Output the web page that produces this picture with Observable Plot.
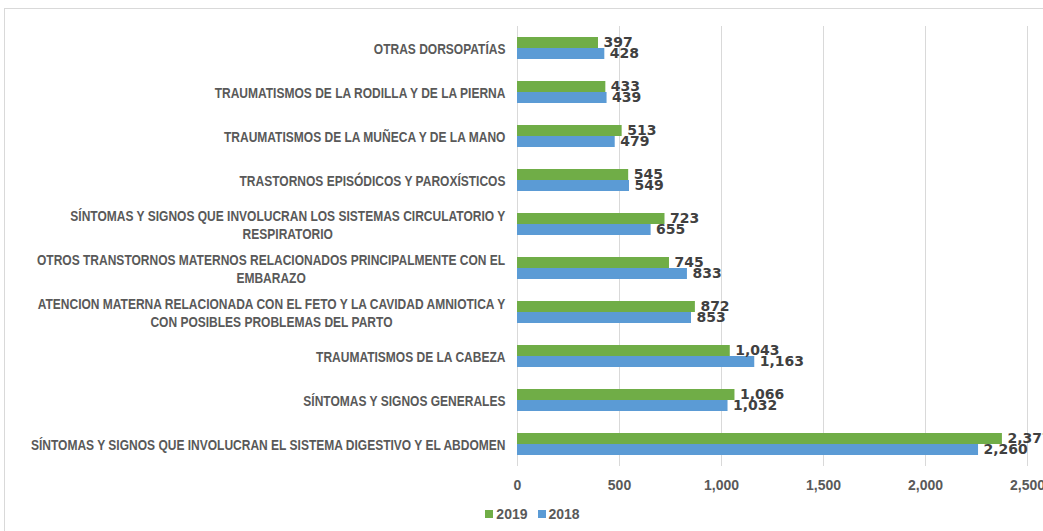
<!DOCTYPE html>
<html><head><meta charset="utf-8">
<script src="https://cdn.jsdelivr.net/npm/d3@7"></script>
<script src="https://cdn.jsdelivr.net/npm/@observablehq/plot@0.6"></script>
<style>
body{margin:0;background:#fff;overflow:hidden;width:1043px;height:531px;position:relative;font-family:"Liberation Sans",Arial,sans-serif;}
#frame{position:absolute;left:4px;top:8px;width:1100px;height:600px;border:1px solid #d9d9d9;box-sizing:border-box;}
#chart{position:absolute;left:0;top:0;}
#legend{position:absolute;top:506px;left:0;width:1043px;display:flex;justify-content:center;gap:10px;font:bold 14px "Liberation Sans",Arial,sans-serif;color:#595959;padding-left:22px;box-sizing:border-box;}
#legend span{display:flex;align-items:center;}
#legend i{display:inline-block;width:8px;height:8px;margin-right:3px;}
</style></head><body>
<div id="frame"></div>
<div id="chart"></div>
<div id="legend"></div>
<script>
const categories = [
  "OTRAS DORSOPATÍAS",
  "TRAUMATISMOS DE LA RODILLA Y DE LA PIERNA",
  "TRAUMATISMOS DE LA MUÑECA Y DE LA MANO",
  "TRASTORNOS EPISÓDICOS Y PAROXÍSTICOS",
  "SÍNTOMAS Y SIGNOS QUE INVOLUCRAN LOS SISTEMAS CIRCULATORIO Y RESPIRATORIO",
  "OTROS TRANSTORNOS MATERNOS RELACIONADOS PRINCIPALMENTE CON EL EMBARAZO",
  "ATENCION MATERNA RELACIONADA CON EL FETO Y LA CAVIDAD AMNIOTICA Y CON POSIBLES PROBLEMAS DEL PARTO",
  "TRAUMATISMOS DE LA CABEZA",
  "SÍNTOMAS Y SIGNOS GENERALES",
  "SÍNTOMAS Y SIGNOS QUE INVOLUCRAN EL SISTEMA DIGESTIVO Y EL ABDOMEN"
];
const labelLines = [
  "OTRAS DORSOPATÍAS",
  "TRAUMATISMOS DE LA RODILLA Y DE LA PIERNA",
  "TRAUMATISMOS DE LA MUÑECA Y DE LA MANO",
  "TRASTORNOS EPISÓDICOS Y PAROXÍSTICOS",
  "SÍNTOMAS Y SIGNOS QUE INVOLUCRAN LOS SISTEMAS CIRCULATORIO Y\nRESPIRATORIO",
  "OTROS TRANSTORNOS MATERNOS RELACIONADOS PRINCIPALMENTE CON EL\nEMBARAZO",
  "ATENCION MATERNA RELACIONADA CON EL FETO Y LA CAVIDAD AMNIOTICA Y\nCON POSIBLES PROBLEMAS DEL PARTO",
  "TRAUMATISMOS DE LA CABEZA",
  "SÍNTOMAS Y SIGNOS GENERALES",
  "SÍNTOMAS Y SIGNOS QUE INVOLUCRAN EL SISTEMA DIGESTIVO Y EL ABDOMEN"
];
const years = ["2019", "2018"];
const values2019 = [397, 433, 513, 545, 723, 745, 872, 1043, 1066, 2377];
const values2018 = [428, 439, 479, 549, 655, 833, 853, 1163, 1032, 2260];
const xTicks = [0, 500, 1000, 1500, 2000, 2500];
const colors = ["#70AD47", "#5B9BD5"];

const data = [];
categories.forEach((c, i) => {
  data.push({cat: c, year: "2019", value: values2019[i]});
  data.push({cat: c, year: "2018", value: values2018[i]});
});
const labelOf = new Map(categories.map((c, i) => [c, labelLines[i]]));
const fmt = d3.format(",");
const labelRight = 505;

const chart = Plot.plot({
  width: 1043,
  height: 500,
  marginLeft: 517,
  marginRight: 16,
  marginTop: 25,
  marginBottom: 34,
  style: {background: "transparent", overflow: "visible", fontFamily: '"Liberation Sans", Arial, sans-serif'},
  x: {domain: [0, 2500], ticks: xTicks, label: null},
  fy: {domain: categories, padding: 0, label: null},
  y: {domain: years, paddingInner: 0, paddingOuter: 1, axis: null, label: null},
  color: {domain: years, range: colors},
  marks: [
    Plot.ruleX(xTicks, {x: d => d, stroke: "#d9d9d9", strokeWidth: 1, strokeOpacity: 1, facetAnchor: null}),
    Plot.barX(data, {fy: "cat", y: "year", x: "value", fill: "year"}),
    Plot.text(data, {fy: "cat", y: "year", x: "value", text: d => fmt(d.value), textAnchor: "start", dx: 5, fill: "#404040", fontWeight: "bold", fontSize: 14, fontFamily: '"DejaVu Sans", sans-serif'}),
    Plot.axisX({ticks: xTicks, tickFormat: fmt, tickSize: 0, tickPadding: 14, fontSize: 14, fontWeight: "bold", color: "#595959", label: null, facetAnchor: "bottom"}),
    Plot.axisFy({anchor: "left", tickSize: 0, tickPadding: 517 - labelRight, tickFormat: c => labelOf.get(c), fontSize: 14, fontWeight: "bold", fill: "#595959", lineHeight: 1.25, label: null})
  ]
});
document.getElementById("chart").appendChild(chart);

// center multi-line labels within their block, then compress labels horizontally
const axisG = chart.querySelector('[aria-label="fy-axis tick label"]');
axisG.querySelectorAll("text").forEach(t => {
  const spans = t.querySelectorAll("tspan");
  if (spans.length > 1) {
    let w = 0;
    spans.forEach(s => w = Math.max(w, s.getComputedTextLength()));
    t.setAttribute("text-anchor", "middle");
    spans.forEach(s => s.setAttribute("x", -w / 2 + (+s.getAttribute("x") || 0)));
  }
});
const longest = [...axisG.querySelectorAll("text")].find(t => t.textContent.includes("DIGESTIVO"));
const k = 475 / longest.getBBox().width;
const orig = axisG.getAttribute("transform") || "";
axisG.setAttribute("transform", `translate(${labelRight},0) scale(${k},1) translate(${-labelRight},0) ${orig}`);

const legend = document.getElementById("legend");
years.forEach((y, i) => {
  const s = document.createElement("span");
  s.innerHTML = `<i style="background:${colors[i]}"></i>${y}`;
  legend.appendChild(s);
});
</script>
</body></html>
